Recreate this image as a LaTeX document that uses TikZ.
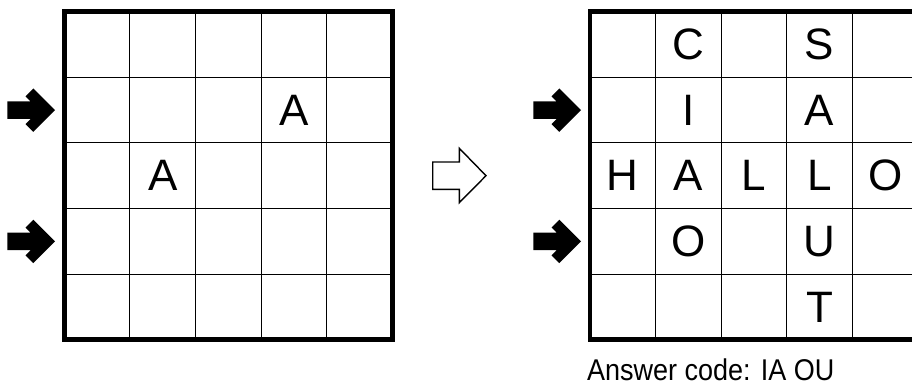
\documentclass[tikz,border=0pt]{standalone}
\usepackage{fontspec}
\newfontfamily\gridfont{Liberation Sans}
\newfontfamily\notefont{Liberation Sans}[FakeStretch=0.9]
\begin{document}
\begin{tikzpicture}[x=1pt,y=-1pt,
  cell/.style={draw=black, line width=1.1pt, minimum size=65.6pt, inner sep=0pt, outer sep=0pt},
  letter/.style={inner sep=0pt, font=\gridfont\fontsize{44}{50}\selectfont},
  frame/.style={draw=black, line width=4.6pt},
  hollowarrow/.style={draw=black, line width=1.4pt, fill=white, line join=miter},
  pics/solidarrow/.style={code={
    \fill[black] (0,0) -- (-21.7,-21.7) -- (-29.5,-13.9) -- (-24.3,-8.7)
      -- (-47.7,-8.7) -- (-47.7,8.7) -- (-24.3,8.7) -- (-29.5,13.9)
      -- (-21.7,21.7) -- cycle;}}]
\useasboundingbox (0,0) rectangle (912,385);

% two 5x5 grids of cells
\foreach \r in {1,...,5} \foreach \c in {1,...,5} {
  \node[cell] (L-\r-\c) at ({64.3+(\c-0.5)*65.6},{11.7+(\r-0.5)*65.6}) {};
  \node[cell] (R-\r-\c) at ({590+(\c-0.5)*65.6},{11.7+(\r-0.5)*65.6}) {};
}
\draw[frame] (L-1-1.north west) rectangle (L-5-5.south east);
\draw[frame] (R-1-1.north west) rectangle (R-5-5.south east);

% givens in the puzzle grid
\node[letter] (lg1) at (L-2-4) {A};
\node[letter] (lg2) at (L-3-2) {A};

% solution grid
\node[letter] (s11) at (R-1-2) {C};
\node[letter] (s12) at (R-1-4) {S};
\node[letter] (s21) at (R-2-2) {I};
\node[letter] (s22) at (R-2-4) {A};
\node[letter] (s31) at (R-3-1) {H};
\node[letter] (s32) at (R-3-2) {A};
\node[letter] (s33) at (R-3-3) {L};
\node[letter] (s34) at (R-3-4) {L};
\node[letter] (s35) at (R-3-5) {O};
\node[letter] (s41) at (R-4-2) {O};
\node[letter] (s42) at (R-4-4) {U};
\node[letter] (s51) at (R-5-4) {T};

% row markers
\pic at (55,110.2) {solidarrow};
\pic at (55,241.4) {solidarrow};
\pic at (581,110.2) {solidarrow};
\pic at (581,241.4) {solidarrow};

% hollow arrow between the grids
\draw[hollowarrow] (432.7,162) -- (459.3,162) -- (459.3,148.3) -- (486,175.7)
  -- (459.3,202.7) -- (459.3,189.3) -- (432.7,189.3) -- cycle;

\node[anchor=base west, inner sep=0pt, text depth=0pt, font=\notefont\fontsize{30}{34}\selectfont]
  (answer) at (587,380) {Answer code: IA OU};
\end{tikzpicture}
\end{document}
